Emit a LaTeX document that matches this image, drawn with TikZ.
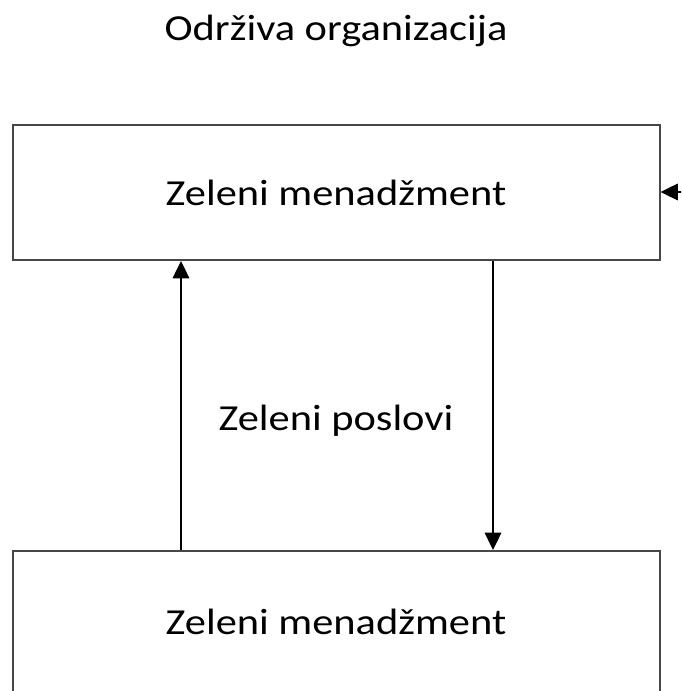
\documentclass[tikz,border=0pt]{standalone}
\usepackage{fontspec}
\usepackage{graphicx}
\setmainfont{Carlito}
\usetikzlibrary{arrows.meta}
\newcommand{\widetext}[1]{\scalebox{1.157}[1]{#1}}
\begin{document}
\begin{tikzpicture}[x=0.75pt,y=0.75pt,
  box/.style={draw=black!72, line width=1.5pt, minimum width=485.25pt, minimum height=101.25pt, inner sep=0pt, font=\fontsize{27.5}{33}\selectfont},
  lbl/.style={font=\fontsize{27.5}{33}\selectfont, inner sep=0pt},
  conn/.style={draw=black, line width=0.9pt, -{Triangle[width=12.5pt,length=13pt]}}]
\useasboundingbox (0,0) rectangle (681,691);
\clip (0,0) rectangle (681,691);
\node[lbl] (title) at (336,660) {\widetext{Održiva organizacija}};
\node[box] (top) at (336,498.5) {\widetext{Zeleni menadžment}};
\node[box, minimum height=106.5pt] (bot) at (336,69) {\widetext{Zeleni menadžment}};
\node[lbl, anchor=base] (mid) at (336,260) {\widetext{Zeleni poslovi}};
\coordinate (ux) at (181,0);
\coordinate (dx) at (493,0);
\coordinate (ext) at (700,499);
\draw[conn] (bot.north -| ux) -- (top.south -| ux);
\draw[conn] (top.south -| dx) -- (bot.north -| dx);
\draw[conn] (ext) -- (ext -| top.east);
\end{tikzpicture}
\end{document}
